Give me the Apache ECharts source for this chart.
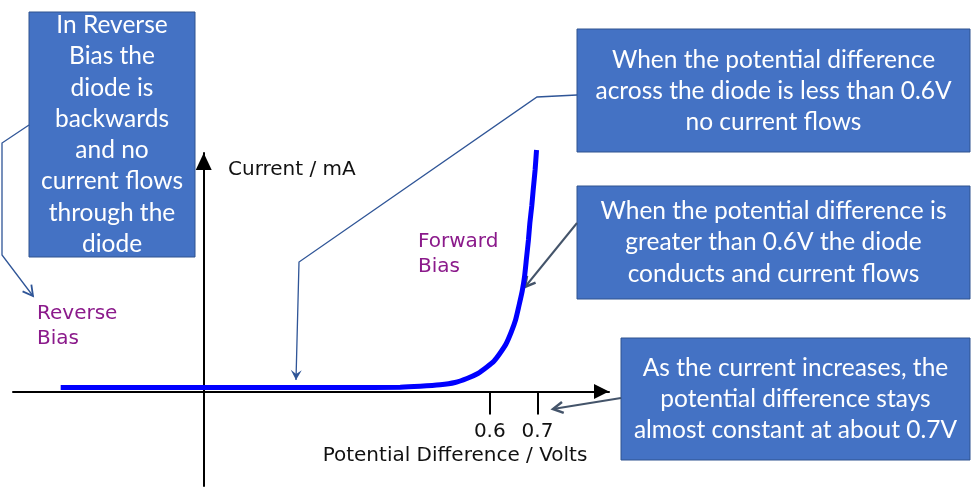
<!DOCTYPE html>
<html>
<head>
<meta charset="utf-8">
<script src="https://cdn.jsdelivr.net/npm/echarts@6/dist/echarts.min.js"></script>
<style>
  * { margin: 0; padding: 0; }
  html, body { width: 973px; height: 489px; background: #fff; overflow: hidden; }
  #main { width: 973px; height: 489px; }
</style>
</head>
<body>
<div id="main"></div>
<script>
// diode I-V curve
const volts = [-0.30, -0.20, -0.10, 0.00, 0.10, 0.20, 0.30, 0.412, 0.454, 0.496, 0.527, 0.552, 0.575, 0.594, 0.609, 0.621, 0.634, 0.645, 0.654, 0.661, 0.668, 0.673, 0.677, 0.681, 0.684, 0.688, 0.691, 0.695, 0.698]
const current = [0.4, 0.4, 0.4, 0.4, 0.4, 0.4, 0.4, 0.43, 0.52, 0.67, 0.9, 1.3, 1.8, 2.45, 3.05, 3.8, 4.75, 5.95, 7.15, 8.55, 10.05, 11.55, 13.35, 15.15, 16.85, 18.55, 20.15, 22.15, 24.15]
const tickValues = [0.6, 0.7]

const xName = 'Potential Difference / Volts'
const yName = 'Current / mA'
const reverseLabel = 'Reverse\nBias'
const forwardLabel = 'Forward\nBias'

const noteReverse = 'In Reverse\nBias the\ndiode is\nbackwards\nand no\ncurrent flows\nthrough the\ndiode'
const noteBelow = 'When the potential difference\nacross the diode is less than 0.6V\nno current flows'
const noteAbove = 'When the potential difference is\ngreater than 0.6V the diode\nconducts and current flows'
const noteConstant = 'As the current increases, the\npotential difference stays\nalmost constant at about 0.7V'

const boxFont = '24.5px Lato'
const labelFont = '20px "DejaVu Sans"'
const purple = '#8b1a8b'

function box (x, y, w, h, text, cy, lh) {
  return [
    { type: 'rect', shape: { x: x, y: y, width: w, height: h }, style: { fill: '#4472c4', stroke: '#2f528f', lineWidth: 1 } },
    { type: 'text', style: { text: text, x: x + w / 2, y: cy, font: boxFont, fill: '#fff', textAlign: 'center', textVerticalAlign: 'middle', lineHeight: lh } }
  ]
}

// connector line with an arrow head at its last point
function connector (points, color, width, filled) {
  const n = points.length
  const [x1, y1] = points[n - 2]
  const [x2, y2] = points[n - 1]
  const a = Math.atan2(y2 - y1, x2 - x1)
  const l = 10
  const w = 5.5
  const left = [x2 - l * Math.cos(a) + w * Math.sin(a), y2 - l * Math.sin(a) - w * Math.cos(a)]
  const right = [x2 - l * Math.cos(a) - w * Math.sin(a), y2 - l * Math.sin(a) + w * Math.cos(a)]
  const notch = [x2 - 6 * Math.cos(a), y2 - 6 * Math.sin(a)]
  const head = filled
    ? { type: 'polygon', shape: { points: [left, [x2, y2], right, notch] }, style: { fill: color } }
    : { type: 'polyline', shape: { points: [left, [x2, y2], right] }, style: { stroke: color, lineWidth: width + 0.5, fill: null } }
  return [
    { type: 'polyline', shape: { points: points }, style: { stroke: color, lineWidth: width, fill: null } },
    head
  ]
}

const myChart = echarts.init(document.getElementById('main'))

const option = {
  animation: false,
  backgroundColor: '#fff',
  grid: { left: 13, right: 364, top: 153, bottom: 3, outerBoundsMode: 'none' },
  xAxis: {
    type: 'value',
    min: -0.4,
    max: 0.85,
    splitLine: { show: false },
    axisLine: {
      onZero: true,
      symbol: ['none', 'triangle'],
      symbolSize: [15, 15],
      symbolOffset: [0, -7.5],
      lineStyle: { color: '#000', width: 2 }
    },
    axisTick: { show: true, customValues: tickValues, length: 23, lineStyle: { color: '#000', width: 2 } },
    // labels sit at the grid edge, not on the zero line, so pull them up
    axisLabel: { show: true, customValues: tickValues, margin: -64, color: '#111', fontFamily: 'DejaVu Sans', fontSize: 20 }
  },
  yAxis: {
    type: 'value',
    min: -9.45,
    max: 23.85,
    splitLine: { show: false },
    axisLine: {
      onZero: true,
      symbol: ['none', 'triangle'],
      symbolSize: [16, 17],
      symbolOffset: [0, -8.5],
      lineStyle: { color: '#000', width: 2 }
    },
    axisTick: { show: false },
    axisLabel: { show: false }
  },
  series: [{
    type: 'line',
    data: volts.map((v, i) => [v, current[i]]),
    smooth: 0.2,
    showSymbol: false,
    clip: false,
    lineStyle: { color: '#0000ff', width: 5 }
  }],
  graphic: [
    { type: 'text', style: { text: yName, x: 228, y: 170, font: labelFont, fill: '#111', textVerticalAlign: 'middle' } },
    { type: 'text', style: { text: xName, x: 455, y: 456, font: labelFont, fill: '#111', textAlign: 'center', textVerticalAlign: 'middle' } },
    { type: 'text', style: { text: reverseLabel, x: 37, y: 326, font: labelFont, fill: purple, textVerticalAlign: 'middle', lineHeight: 25 } },
    { type: 'text', style: { text: forwardLabel, x: 418, y: 254, font: labelFont, fill: purple, textVerticalAlign: 'middle', lineHeight: 25 } },
    ...box(29, 12, 166, 245, noteReverse, 134.6, 31.3),
    ...box(577, 29, 393, 123, noteBelow, 91, 31),
    ...box(577, 186, 393, 113, noteAbove, 242.3, 31.5),
    ...box(621, 338, 349, 122, noteConstant, 399.3, 31.25),
    ...connector([[29, 125], [2, 143], [2, 255], [33, 296]], '#2f5597', 1.3, false),
    ...connector([[577, 95], [537, 97], [299, 262], [296, 380]], '#2f5597', 1.3, true),
    ...connector([[577, 223], [525, 287]], '#44546a', 2, false),
    ...connector([[621, 398], [553, 409]], '#44546a', 2, false)
  ]
}

myChart.setOption(option)
</script>
</body>
</html>
